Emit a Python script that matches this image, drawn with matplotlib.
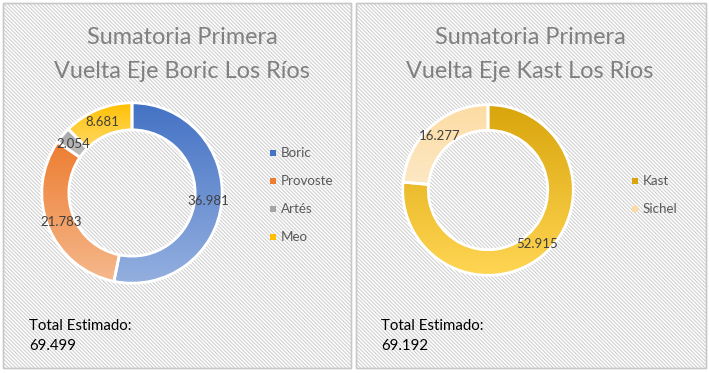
import numpy as np
import matplotlib
matplotlib.use("Agg")
import matplotlib.pyplot as plt
from matplotlib.patches import Rectangle
from matplotlib.colors import LinearSegmentedColormap

plt.rcParams['font.family'] = ['Lato', 'DejaVu Sans']
plt.rcParams['hatch.color'] = '#dcdcdc'
plt.rcParams['hatch.linewidth'] = 0.8

# data
boric_names = ["Boric", "Provoste", "Artés", "Meo"]
boric_votes = [36981, 21783, 2054, 8681]
kast_names = ["Kast", "Sichel"]
kast_votes = [52915, 16277]

# (top colour, bottom colour) for each slice
boric_cols = [("#4472c4", "#93afdf"), ("#ed7d31", "#f5b88c"),
              ("#a5a5a5", "#c0c0c0"), ("#ffc000", "#ffd966")]
kast_cols = [("#d9a50c", "#ffd552"), ("#fcdca3", "#fde8c4")]

W, H = 709, 373


def fmt(v):
	return "{:,}".format(v).replace(",", ".")


def px_axes(fig, x, y, w, h):
	# pixel box (top-left origin) -> figure fraction
	return fig.add_axes([x / W, (H - y - h) / H, w / W, h / H])


def donut(ax, names, votes, cols):
	wedges, _ = ax.pie(votes, startangle=90, counterclock=False, radius=1,
					   wedgeprops=dict(width=0.3, edgecolor='white', linewidth=2))
	for w, (c1, c2) in zip(wedges, cols):
		bb = w.get_path().get_extents(w.get_transform() - ax.transData)
		cm = LinearSegmentedColormap.from_list("g", [c1, c2])
		grad = np.linspace(0, 1, 100).reshape(-1, 1)
		im = ax.imshow(grad, cmap=cm, aspect='auto', origin='upper',
					   extent=[bb.x0, bb.x1, bb.y0, bb.y1], zorder=1)
		im.set_clip_path(w)
		w.set_facecolor('none')
		w.set_zorder(2)
	# labels at middle of the ring
	tot = float(sum(votes))
	cum = 0
	for v in votes:
		mid = (cum + v / 2) / tot
		ang = np.deg2rad(90 - 360 * mid)
		ax.text(0.85 * np.cos(ang), 0.85 * np.sin(ang), fmt(v), ha='center', va='center',
				fontsize=9.5, color='#404040', zorder=3)
		cum += v
	ax.set_xlim(-1.02, 1.02)
	ax.set_ylim(-1.02, 1.02)
	ax.set_aspect('equal')
	ax.axis('off')
	return wedges


fig = plt.figure(figsize=(W / 100, H / 100), dpi=100)
fig.patch.set_facecolor('white')

# panel backgrounds (behind the axes)
for x0, x1 in [(3, 351), (356, 706)]:
	r = Rectangle((x0 / W, (H - 368) / H), (x1 - x0) / W, 365 / H, transform=fig.transFigure,
				  facecolor='white', edgecolor='#d0d0d0', hatch='\\' * 9, linewidth=1, zorder=-5)
	fig.patches.append(r)
	r2 = Rectangle((x0 / W, (H - 368) / H), (x1 - x0) / W, 365 / H, transform=fig.transFigure,
				   facecolor='none', edgecolor='#c8c8c8', linewidth=1, zorder=-4)
	fig.patches.append(r2)

ax1 = px_axes(fig, 40, 101, 184, 184)
w1 = donut(ax1, boric_names, boric_votes, boric_cols)
ax2 = px_axes(fig, 401, 103, 174, 174)
w2 = donut(ax2, kast_names, kast_votes, kast_cols)

# titles
fs_t = 16.9
fig.text(182 / W, 1 - 38 / H, "Sumatoria Primera", ha='center', va='center', fontsize=fs_t, color='#808080')
fig.text(182 / W, 1 - 71 / H, "Vuelta Eje Boric Los Ríos", ha='center', va='center', fontsize=fs_t, color='#808080')
fig.text(530 / W, 1 - 38 / H, "Sumatoria Primera", ha='center', va='center', fontsize=fs_t, color='#808080')
fig.text(530 / W, 1 - 71 / H, "Vuelta Eje Kast Los Ríos", ha='center', va='center', fontsize=fs_t, color='#808080')

# legends
for i, (n, c) in enumerate(zip(boric_names, boric_cols)):
	y = 153 + 28 * i
	fig.patches.append(Rectangle(((270) / W, (H - y - 3) / H), 6 / W, 6 / H,
								 transform=fig.transFigure, facecolor=c[0], edgecolor='none'))
	fig.text(281 / W, 1 - y / H, n, ha='left', va='center', fontsize=9.6, color='#595959')
for i, (n, c) in enumerate(zip(kast_names, kast_cols)):
	y = 181 + 28 * i
	fig.patches.append(Rectangle(((632) / W, (H - y - 3) / H), 6 / W, 6 / H,
								 transform=fig.transFigure, facecolor=c[0], edgecolor='none'))
	fig.text(643 / W, 1 - y / H, n, ha='left', va='center', fontsize=9.6, color='#595959')

# totals
fig.text(29 / W, 1 - 336 / H, "Total Estimado:\n" + fmt(sum(boric_votes)), ha='left', va='center',
		 fontsize=10.8, color='black', linespacing=1.55)
fig.text(381 / W, 1 - 336 / H, "Total Estimado:\n" + fmt(sum(kast_votes)), ha='left', va='center',
		 fontsize=10.8, color='black', linespacing=1.55)

fig.savefig("out.png", dpi=100)
